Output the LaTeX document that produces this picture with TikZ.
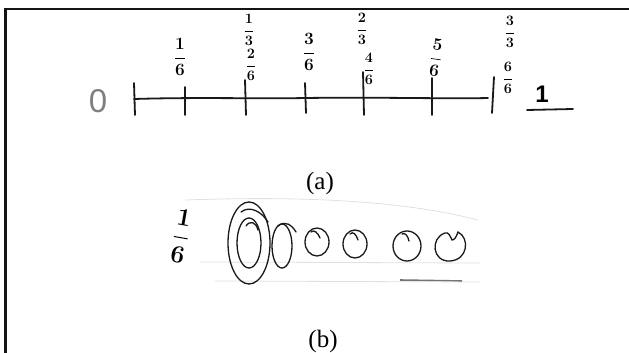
\documentclass[tikz,border=0pt]{standalone}
\usepackage{amsmath}
\usepackage{fontspec}
\setmainfont{Liberation Serif}
\newfontfamily\handfont{Liberation Sans}
\begin{document}
\begin{tikzpicture}[x=1pt,y=-1pt,
  ink/.style={line width=1.8pt,line cap=round,line join=round,black!90},
  thinink/.style={line width=1.3pt,line cap=round,black!90},
  frac/.style={inner sep=0pt,align=center,font=\fontsize{17}{17}\selectfont\boldmath},
  smallfrac/.style={inner sep=0pt,align=center,font=\fontsize{14}{14}\selectfont\boldmath},
  captext/.style={inner sep=0pt,font=\fontsize{25}{25}\selectfont},
  faint/.style={line width=0.8pt,black!12}]
\useasboundingbox (0,0) rectangle (629,353);
% frame
\draw[line width=2.6pt,black!92] (629,9) -- (5.3,9) -- (5.3,353);
% ---------- (a) number line ----------
\node[inner sep=0pt,text=black!50,font=\handfont\fontsize{33}{33}\selectfont] (zero) at (98,101) {0};
\draw[ink] (134,99) .. controls (200,97) and (260,99) .. (305,98) .. controls (380,97) and (450,99) .. (488,98);
\draw[ink] (134,83) -- (135,115);
\draw[ink] (185,87) -- (185,115);
\draw[ink] (245,80) -- (246,115);
\draw[ink] (305,83) -- (306,113);
\draw[ink] (363,72) -- (364,115);
\draw[ink] (432,78) -- (432,115);
\draw[ink] (494,77) -- (492,113);
\node[frac] (f16) at (180,57) {$\dfrac{1}{6}$};
\node[smallfrac] (f13) at (249,30) {$\dfrac{1}{3}$};
\node[smallfrac] (f26) at (251,65) {$\dfrac{2}{6}$};
\node[frac] (f36) at (309,52) {$\dfrac{3}{6}$};
\node[smallfrac] (f23) at (362,29) {$\dfrac{2}{3}$};
\node[smallfrac] (f46) at (369,69) {$\dfrac{4}{6}$};
\node[frac,rotate=-8] (f56) at (436,58) {$\dfrac{5}{6}$};
\node[smallfrac] (f33) at (510,32) {$\dfrac{3}{3}$};
\node[smallfrac] (f66) at (508,78) {$\dfrac{6}{6}$};
\node[inner sep=0pt,font=\handfont\bfseries\fontsize{24}{24}\selectfont] (one) at (542,94) {1};
\draw[ink] (527,110) -- (573,109);
\node[captext] (capa) at (320,183) {(a)};
% ---------- (b) circles ----------
\draw[faint] (185,200) .. controls (300,196) and (400,200) .. (478,220);
\draw[faint] (200,262) -- (480,263);
\draw[line width=1.6pt,black!55] (400,280) -- (462,281);
\draw[faint] (215,281) -- (480,282);
\node[frac,rotate=-10,font=\fontsize{24}{24}\selectfont\boldmath] (b16) at (181,236) {$\dfrac{1}{6}$};
\draw[thinink] (249,243) ellipse [x radius=21, y radius=41];
\draw[thinink] (249,243) ellipse [x radius=12, y radius=25];
\draw[thinink] (241,212) .. controls (250,205) and (262,212) .. (268,222);
\draw[thinink] (246,226) .. controls (250,220) and (256,222) .. (258,230);
\draw[thinink] (282,246) ellipse [x radius=10, y radius=22];
\draw[thinink] (278,226) .. controls (285,220) and (292,225) .. (296,232);
\draw[thinink] (317,242) ellipse [x radius=12, y radius=14];
\draw[thinink] (311,232) .. controls (314,229) and (318,233) .. (320,238);
\draw[thinink] (355,244) ellipse [x radius=12, y radius=14];
\draw[thinink] (350,234) .. controls (353,231) and (356,234) .. (358,240);
\draw[thinink] (407,246) ellipse [x radius=14, y radius=15];
\draw[thinink] (402,234) .. controls (405,232) and (408,236) .. (409,241);
\draw[thinink] (445,233) .. controls (430,238) and (432,262) .. (450,261)
  .. controls (468,260) and (470,238) .. (458,232) .. controls (456,238) and (454,240) .. (452,240)
  .. controls (450,236) and (449,232) .. (445,233);
\node[captext] (capb) at (323,341) {(b)};
\end{tikzpicture}
\end{document}
